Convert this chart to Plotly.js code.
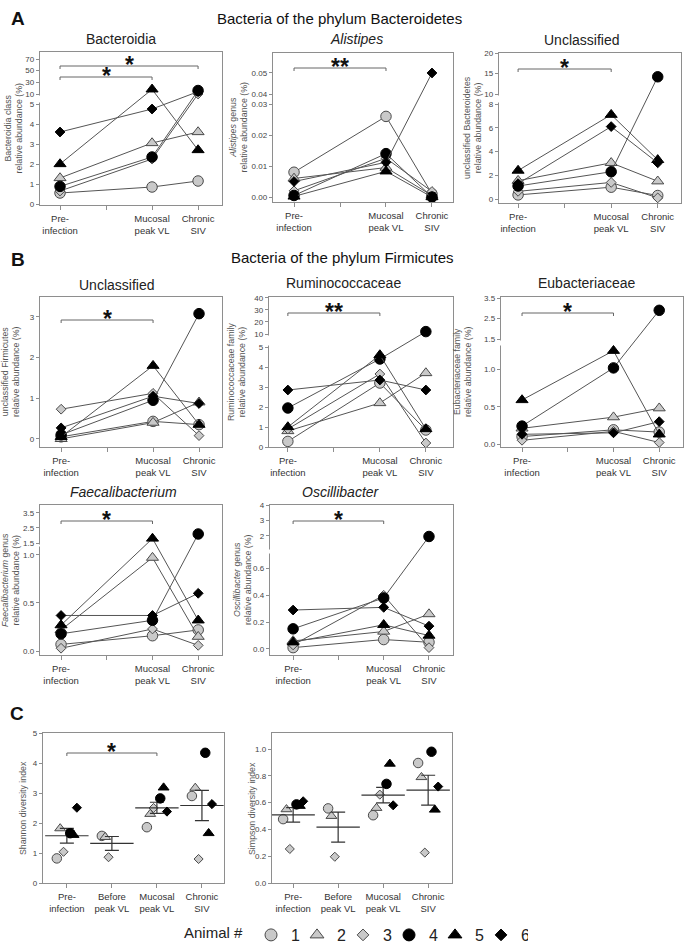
<!DOCTYPE html>
<html><head><meta charset="utf-8">
<script src="https://cdn.plot.ly/plotly-3.0.1.min.js"></script>
<style>html,body{margin:0;padding:0;background:#fff}#chart{width:685px;height:945px}</style>
</head><body><div id="chart"></div>
<script>
const W = 685, H = 945;
const FONT = 'Liberation Sans, Arial, Helvetica, sans-serif';

// ---------------- categories / labels ----------------
const timepoints = ['Pre-infection', 'Before peak VL', 'Mucosal peak VL', 'Chronic SIV'];
const lineTimepoints = ['Pre-infection', 'Mucosal peak VL', 'Chronic SIV'];
const tickLabelsAB = ['Pre-<br>infection', '', 'Mucosal<br>peak VL', 'Chronic<br>SIV'];
const tickLabelsC = ['Pre-<br>infection', 'Before<br>peak VL', 'Mucosal<br>peak VL', 'Chronic<br>SIV'];
const animals = ['1', '2', '3', '4', '5', '6'];

// ---------------- data (animal 1..6) ----------------
// A: Bacteroidetes
const bacteroidia_pre      = [0.55, 1.3, 0.65, 0.88, 2.0, 3.6];
const bacteroidia_mucosal  = [0.85, 3.05, 2.25, 2.35, 18, 4.75];
const bacteroidia_chronic  = [1.15, 3.6, 10, 16, 2.7, 14];

const alistipes_pre        = [0.008, 0.006, 0.002, 0.0005, 0.0002, 0.005];
const alistipes_mucosal    = [0.026, 0.0095, 0.0125, 0.014, 0.0083, 0.0112];
const alistipes_chronic    = [0.001, 0.0005, 0.0018, 0.0, 0.0, 0.05];

const unclBact_pre         = [0.35, 1.55, 0.65, 1.1, 2.4, 1.3];
const unclBact_mucosal     = [1.0, 3.05, 1.4, 2.3, 7.1, 6.1];
const unclBact_chronic     = [0.3, 1.5, 0.1, 14.2, 3.3, 3.05];

// B: Firmicutes
const unclFirm_pre         = [0.05, 0.0, 0.73, 0.1, 0.05, 0.27];
const unclFirm_mucosal     = [0.43, 0.4, 1.12, 0.95, 1.8, 1.05];
const unclFirm_chronic     = [0.35, 0.9, 0.08, 3.08, 0.35, 0.87];

const rumino_pre           = [0.28, 0.8, 0.9, 1.95, 1.0, 2.85];
const rumino_mucosal       = [3.2, 2.2, 3.65, 4.4, 4.6, 3.35];
const rumino_chronic       = [0.85, 3.7, 0.2, 12, 0.9, 2.85];

const eubact_pre           = [0.1, 0.21, 0.05, 0.24, 0.59, 0.13];
const eubact_mucosal       = [0.19, 0.36, 0.17, 1.02, 1.25, 0.15];
const eubact_chronic       = [0.16, 0.48, 0.02, 2.9, 0.13, 0.3];

const faecali_pre          = [0.07, 0.22, 0.03, 0.18, 0.27, 0.37];
const faecali_mucosal      = [0.16, 0.97, 0.23, 0.32, 1.8, 0.37];
const faecali_chronic      = [0.22, 0.15, 0.06, 2.1, 0.32, 0.6];

const oscilli_pre          = [0.01, 0.06, 0.03, 0.15, 0.05, 0.29];
const oscilli_mucosal      = [0.07, 0.13, 0.4, 0.38, 0.18, 0.31];
const oscilli_chronic      = [0.05, 0.26, 0.01, 1.95, 0.1, 0.17];

// C: diversity
const shannon_pre          = [0.82, 1.82, 1.04, 1.66, 1.6, 2.51];
const shannon_before       = [1.57, 1.53, 0.86, null, null, null];
const shannon_mucosal      = [1.86, 2.3, 2.5, 2.82, 3.18, 2.38];
const shannon_chronic      = [2.9, 3.17, 0.8, 4.34, 1.66, 2.63];

const simpson_pre          = [0.477, 0.55, 0.254, 0.587, 0.575, 0.61];
const simpson_before       = [0.557, 0.50, 0.196, null, null, null];
const simpson_mucosal      = [0.506, 0.56, 0.66, 0.74, 0.89, 0.58];
const simpson_chronic      = [0.896, 0.79, 0.227, 0.98, 0.547, 0.72];

// ---------------- styles ----------------
const SYM   = ['circle', 'triangle-up', 'diamond', 'circle', 'triangle-up', 'diamond'];
const FILL  = ['#c9c9c9', '#c9c9c9', '#c9c9c9', '#000000', '#000000', '#000000'];
const EDGE  = ['#4a4a4a', '#4a4a4a', '#4a4a4a', '#000000', '#000000', '#000000'];
const SIZE_AB = [10.5, 10.5, 7.5, 10.5, 10.5, 7.5];
const SIZE_C  = [9.5, 9.5, 7, 9.5, 9.5, 7];
const SIZE_LEG = [12, 12, 9, 12, 12, 9];
const LINE_COLOR = '#555555';
const FRAME = '#8e8e8e';

const px = x => x / W;
const py = y => 1 - y / H;

// ---------------- panel layout specs ----------------
const panels = [
  {title: 'Bacteroidia', yTitle: 'Bacteroidia class<br>relative abundance (%)',
   vals: [bacteroidia_pre, bacteroidia_mucosal, bacteroidia_chronic],
   lo: [-0.05, 5], hi: [10, 82], parts: [101, 10, 42], ticksLo: [0, 1, 2, 3, 4, 5], ticksHi: [10, 30, 50, 70], dec: 0, decHi: 0,
   box: [40, 222, 52, 205], xr: [-0.435, 3.52], titlePos: [121, 39], yTitleX: 13,
   brackets: [{a: 0, b: 3, y: 66, star: '*'}, {a: 0, b: 2, y: 77, star: '*'}]},
  {title: '<i>Alistipes</i>', yTitle: '<i>Alistipes</i> genus<br>relative abundance (%)',
   vals: [alistipes_pre, alistipes_mucosal, alistipes_chronic],
   lo: [-0.0016, 0.03], hi: [0.04, 0.0595], parts: [98, 10, 41], ticksLo: [0, 0.01, 0.02, 0.03], ticksHi: [0.04, 0.05, 0.06], dec: 2, decHi: 2,
   box: [273, 453, 53, 202], xr: [-0.457, 3.457], titlePos: [356, 39], yTitleX: 238, noGap: true,
   brackets: [{a: 0, b: 2, y: 68, star: '**'}]},
  {title: 'Unclassified', yTitle: 'unclassified Bacteroidetes<br>relative abundance (%)',
   vals: [unclBact_pre, unclBact_mucosal, unclBact_chronic],
   lo: [-0.33, 8], hi: [10, 20], parts: [99, 10, 41], ticksLo: [0, 2, 4, 6, 8], ticksHi: [10, 15, 20], dec: 0, decHi: 0,
   box: [499, 681, 53, 203], xr: [-0.41, 3.5], titlePos: [581, 40], yTitleX: 472,
   brackets: [{a: 0, b: 2, y: 69, star: '*'}]},
  {title: 'Unclassified', yTitle: 'unclassified Firmicutes<br>relative abundance (%)',
   vals: [unclFirm_pre, unclFirm_mucosal, unclFirm_chronic],
   lo: [-0.2, 3.49], hi: null, parts: [150], ticksLo: [0, 1, 2, 3], ticksHi: [], dec: 0, decHi: 0,
   box: [40, 222, 297, 447], xr: [-0.46, 3.5], titlePos: [116, 285], yTitleX: 11,
   brackets: [{a: 0, b: 2, y: 320, star: '*'}]},
  {title: 'Ruminococcaceae', yTitle: 'Ruminococcaceae family<br>relative abundance (%)',
   vals: [rumino_pre, rumino_mucosal, rumino_chronic],
   lo: [0, 5], hi: [10, 40.8], parts: [100, 13, 37], ticksLo: [0, 1, 2, 3, 4, 5], ticksHi: [10, 20, 30, 40], dec: 0, decHi: 0,
   box: [269, 453, 297, 447], xr: [-0.41, 3.59], titlePos: [343, 283], yTitleX: 237,
   brackets: [{a: 0, b: 2, y: 313, star: '**'}]},
  {title: 'Eubacteriaceae', yTitle: 'Eubacteriaceae family<br>relative abundance (%)',
   vals: [eubact_pre, eubact_mucosal, eubact_chronic],
   lo: [-0.04, 1.3], hi: [1.5, 3.55], parts: [100, 8, 42], ticksLo: [0, 0.5, 1.0], ticksHi: [1.5, 2.5, 3.5], dec: 1, decHi: 1,
   box: [501, 683, 297, 447], xr: [-0.46, 3.52], titlePos: [587, 283], yTitleX: 463,
   brackets: [{a: 0, b: 2, y: 313, star: '*'}]},
  {title: '<i>Faecalibacterium</i>', yTitle: '<i>Faecalibacterium</i> genus<br>relative abundance (%)',
   vals: [faecali_pre, faecali_mucosal, faecali_chronic],
   lo: [-0.04, 1.07], hi: [1.5, 4.03], parts: [107, 5, 38], ticksLo: [0, 0.5, 1.0], ticksHi: [1.5, 2.5, 3.5], dec: 1, decHi: 1,
   box: [40, 222, 505, 655], xr: [-0.46, 3.52], titlePos: [123, 492], yTitleX: 10,
   brackets: [{a: 0, b: 2, y: 521, star: '*'}]},
  {title: '<i>Oscillibacter</i>', yTitle: '<i>Oscillibacter</i> genus<br>relative abundance (%)',
   vals: [oscilli_pre, oscilli_mucosal, oscilli_chronic],
   lo: [-0.045, 0.70], hi: [1.2, 4.0], parts: [100, 7, 43], ticksLo: [0, 0.2, 0.4, 0.6], ticksHi: [2, 3, 4], dec: 1, decHi: 0,
   box: [270, 453, 505, 655], xr: [-0.51, 3.53], titlePos: [341, 492], yTitleX: 242,
   brackets: [{a: 0, b: 2, y: 521, star: '*'}]},
  {title: '', yTitle: 'Shannon diversity index', kind: 'C',
   vals: [shannon_pre, shannon_before, shannon_mucosal, shannon_chronic],
   lo: [0, 5], hi: null, parts: [150], ticksLo: [0, 1, 2, 3, 4, 5], ticksHi: [], dec: 0, decHi: 0,
   box: [43, 224, 733, 883], xr: [-0.53, 3.49], yTitleX: 23,
   brackets: [{a: 0, b: 2, y: 753, star: '*'}]},
  {title: '', yTitle: 'Simpson diversity index', kind: 'C',
   vals: [simpson_pre, simpson_before, simpson_mucosal, simpson_chronic],
   lo: [0, 1.12], hi: null, parts: [150], ticksLo: [0, 0.2, 0.4, 0.6, 0.8, 1.0], ticksHi: [], dec: 1, decHi: 1,
   box: [272, 452, 733, 883], xr: [-0.47, 3.53], yTitleX: 252,
   brackets: []}
];

// piecewise (broken) axis scale
function makeScale(P) {
  return v => {
    if (v === null || v === undefined) return null;
    if (!P.hi || v <= (P.lo[1] + P.hi[0]) / 2) {
      return (v - P.lo[0]) / (P.lo[1] - P.lo[0]) * P.parts[0];
    }
    return P.parts[0] + P.parts[1] + (v - P.hi[0]) / (P.hi[1] - P.hi[0]) * P.parts[2];
  };
}
function meanSem(arr) {
  const v = arr.filter(x => x !== null && x !== undefined);
  const n = v.length;
  const m = v.reduce((a, b) => a + b, 0) / n;
  const sd = Math.sqrt(v.reduce((a, b) => a + (b - m) * (b - m), 0) / (n - 1));
  return [m, sd / Math.sqrt(n)];
}

const data = [];
const layout = {
  width: W, height: H,
  margin: {l: 0, r: 0, t: 0, b: 0, autoexpand: false},
  paper_bgcolor: '#ffffff', plot_bgcolor: 'rgba(0,0,0,0)',
  font: {family: FONT, color: '#333'},
  showlegend: true,
  scattermode: 'group', scattergap: 0.48,
  legend: {
    orientation: 'h', x: 182 / W, xanchor: 'left', y: py(935), yanchor: 'middle',
    title: {text: 'Animal #', side: 'left', font: {size: 15, color: '#222', family: FONT}},
    font: {size: 16, color: '#222', family: FONT},
    entrywidth: 1, entrywidthmode: 'pixels', itemclick: false, itemdoubleclick: false,
    bgcolor: 'rgba(0,0,0,0)', itemsizing: 'trace'
  },
  annotations: [], shapes: []
};

panels.forEach((P, k) => {
  const n = k + 1;
  const xid = n === 1 ? 'x' : 'x' + n;
  const yid = n === 1 ? 'y' : 'y' + n;
  const xKey = n === 1 ? 'xaxis' : 'xaxis' + n;
  const yKey = n === 1 ? 'yaxis' : 'yaxis' + n;
  const t = makeScale(P);
  const total = P.parts.reduce((a, b) => a + b, 0);
  const [bx0, bx1, by0, by1] = P.box;

  layout[xKey] = {
    domain: [px(bx0), px(bx1)], anchor: yid, type: 'category',
    categoryorder: 'array', categoryarray: timepoints, range: P.xr,
    tickmode: 'array', tickvals: timepoints,
    ticktext: P.kind === 'C' ? tickLabelsC : tickLabelsAB,
    showline: true, mirror: true, linecolor: FRAME, linewidth: 1.3,
    ticks: 'outside', ticklen: 4, tickwidth: 1, tickcolor: FRAME,
    tickfont: {size: 9.5, color: '#333', family: FONT},
    showgrid: false, zeroline: false, fixedrange: true
  };
  const tv = P.ticksLo.concat(P.ticksHi);
  const tt = P.ticksLo.map(v => v.toFixed(P.dec)).concat(P.ticksHi.map(v => v.toFixed(P.decHi)));
  layout[yKey] = {
    domain: [py(by1), py(by0)], anchor: xid, range: [0, total],
    tickmode: 'array', tickvals: tv.map(t), ticktext: tt,
    showline: true, mirror: true, linecolor: FRAME, linewidth: 1.3,
    ticks: 'outside', ticklen: 3, tickwidth: 1, tickcolor: FRAME,
    tickfont: {size: 8, color: '#444', family: FONT},
    showgrid: false, zeroline: false, fixedrange: true
  };

  if (P.kind === 'C') {
    const order = [0, 1, 2, 'mean', 3, 4, 5];
    order.forEach(i => {
      if (i === 'mean') {
        const stats = P.vals.map(meanSem);
        data.push({
          type: 'scatter', mode: 'markers', xaxis: xid, yaxis: yid, orientation: 'v',
          offsetgroup: 'mean', showlegend: false, hoverinfo: 'skip', cliponaxis: false,
          x: timepoints, y: stats.map(s => t(s[0])),
          marker: {symbol: 'line-ew', size: 31, color: '#333', line: {color: '#333', width: 1.2}},
          error_y: {type: 'data', array: stats.map(s => s[1] * P.parts[0] / (P.lo[1] - P.lo[0])),
                    visible: true, color: '#333', thickness: 1.2, width: 7}
        });
        return;
      }
      data.push({
        type: 'scatter', mode: 'markers', xaxis: xid, yaxis: yid, orientation: 'v',
        offsetgroup: 'a' + i, showlegend: false, name: animals[i], cliponaxis: false,
        x: timepoints, y: P.vals.map(arr => t(arr[i])),
        marker: {symbol: SYM[i], size: SIZE_C[i], color: FILL[i], line: {color: EDGE[i], width: 1}}
      });
    });
  } else {
    for (let i = 0; i < 6; i++) {
      data.push({
        type: 'scatter', mode: 'lines+markers', xaxis: xid, yaxis: yid, orientation: 'v',
        offsetgroup: 'L', showlegend: false, name: animals[i], cliponaxis: false,
        x: lineTimepoints, y: P.vals.map(arr => t(arr[i])),
        line: {color: LINE_COLOR, width: 1},
        marker: {symbol: SYM[i], size: SIZE_AB[i], color: FILL[i], line: {color: EDGE[i], width: 1}}
      });
    }
  }

  // subplot title
  if (P.title) {
    layout.annotations.push({
      text: P.title, xref: 'paper', yref: 'paper', x: px(P.titlePos[0]), y: py(P.titlePos[1]),
      xanchor: 'center', yanchor: 'middle', showarrow: false,
      font: {size: 14, color: '#222', family: FONT}
    });
  }
  // y-axis title
  layout.annotations.push({
    text: P.yTitle, xref: 'paper', yref: 'paper', x: px(P.yTitleX), y: py((by0 + by1) / 2),
    xanchor: 'center', yanchor: 'middle', textangle: -90, showarrow: false,
    font: {size: 8.8, color: '#555', family: FONT}
  });
  // axis break gap
  if (P.hi && !P.noGap) {
    layout.shapes.push({
      type: 'rect', xref: xid + ' domain', yref: yid, x0: -0.03, x1: 0.012,
      y0: P.parts[0] + 1.5, y1: P.parts[0] + P.parts[1] - 1.5,
      fillcolor: '#ffffff', line: {width: 0}, layer: 'above'
    });
  }
  // significance brackets
  P.brackets.forEach(b => {
    const yb = py(b.y), yt = py(b.y + 3);
    layout.shapes.push({
      type: 'path', xref: xid, yref: 'paper',
      path: `M ${b.a},${yt} L ${b.a},${yb} L ${b.b},${yb} L ${b.b},${yt}`,
      line: {color: '#666', width: 1}
    });
    layout.annotations.push({
      text: '<b>' + b.star + '</b>', xref: xid, yref: 'paper', x: (b.a + b.b) / 2, y: py(b.y - 1),
      xanchor: 'center', yanchor: 'middle', showarrow: false,
      font: {size: 23, color: '#111', family: FONT}
    });
  });
});

// legend-only traces
for (let i = 0; i < 6; i++) {
  data.push({
    type: 'scatter', mode: 'markers', xaxis: 'x', yaxis: 'y', orientation: 'v', offsetgroup: 'L',
    x: [null], y: [null], name: animals[i], showlegend: true, hoverinfo: 'skip',
    marker: {symbol: SYM[i], size: SIZE_LEG[i], color: FILL[i], line: {color: EDGE[i], width: 1}}
  });
}

// panel letters & section titles
const headers = [
  {text: '<b>A</b>', x: 18, y: 18, size: 19, anchor: 'center'},
  {text: 'Bacteria of the phylum Bacteroidetes', x: 339, y: 19, size: 15, anchor: 'center'},
  {text: '<b>B</b>', x: 18, y: 259, size: 19, anchor: 'center'},
  {text: 'Bacteria of the phylum Firmicutes', x: 342, y: 257, size: 15, anchor: 'center'},
  {text: '<b>C</b>', x: 17, y: 713, size: 19, anchor: 'center'}
];
headers.forEach(h => layout.annotations.push({
  text: h.text, xref: 'paper', yref: 'paper', x: px(h.x), y: py(h.y), xanchor: h.anchor, yanchor: 'middle',
  showarrow: false, font: {size: h.size, color: '#111', family: FONT}
}));

Plotly.newPlot('chart', data, layout, {displayModeBar: false, staticPlot: true});
</script>
</body></html>
